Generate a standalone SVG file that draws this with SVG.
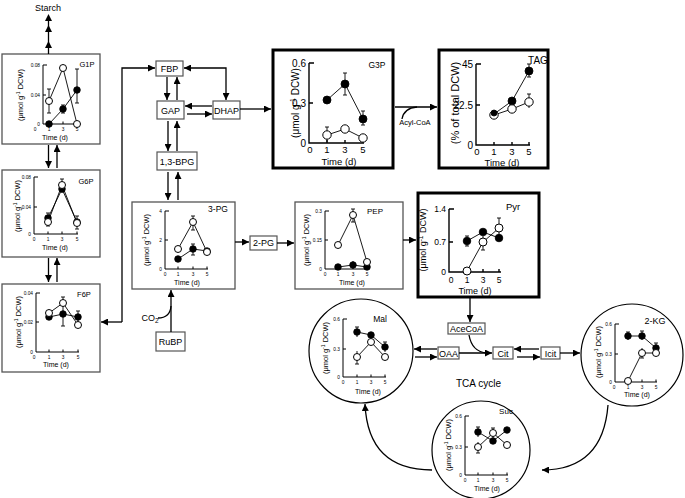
<svg xmlns="http://www.w3.org/2000/svg" width="685" height="498" viewBox="0 0 685 498">
<defs>
<marker id="ah" viewBox="0 0 8 8" refX="8" refY="4" markerWidth="7" markerHeight="7" markerUnits="userSpaceOnUse" orient="auto-start-reverse"><path d="M0,0L8,4L0,8z" fill="#000"/></marker>
<style>
text{font-family:"Liberation Sans",Arial,sans-serif;fill:#000}
.bx{fill:#fff;stroke:#555;stroke-width:1.3}
.bk{fill:#fff;stroke:#000;stroke-width:3}
.sb{fill:#fff;stroke:#555;stroke-width:1.2}
.ax{fill:none;stroke:#000;stroke-width:1}
.axb{fill:none;stroke:#000;stroke-width:1.4}
.ln{fill:none;stroke:#000;stroke-width:0.9}
.o{fill:#fff;stroke:#000;stroke-width:1}
.f{fill:#000;stroke:#000;stroke-width:0.8}
.c{fill:none;stroke:#000;stroke-width:1.2}
.cn{fill:none;stroke:#000;stroke-width:1.3}
.tk{font-size:4.8px}
.tkb{font-size:10px}
.tm{font-size:7px;text-anchor:middle}
.tmb{font-size:9.5px;text-anchor:middle}
.yl{font-size:7.5px;text-anchor:middle}
.ylb{font-size:10px;text-anchor:middle}
.nl{font-size:9px;text-anchor:middle}
.m{text-anchor:middle}
.e{text-anchor:end}
</style>
</defs>

<text x="48" y="11" class="nl">Starch</text>

<g id="n-g1p">
<rect class="bx" x="2" y="54" width="98" height="90"/>
<text x="87" y="67" font-size="7.5" class="m">G1P</text>
<path class="ax" d="M43,65V124H78M43,65h4M43,95h3M49,124v-2.5M63,124v-2.5M77,124v-2.5"/>
<g class="tk e"><text x="40" y="67">0.08</text><text x="40" y="97">0.04</text><text x="40" y="126">0</text></g>
<g class="tk m"><text x="35" y="131">0</text><text x="49" y="131">1</text><text x="63" y="131">3</text><text x="77" y="131">5</text></g>
<text x="55" y="140" class="tm">Time (d)</text>
<text class="yl" x="23" y="95" transform="rotate(-90 23 95)">(μmol g<tspan dy="-3" font-size="5">-1</tspan><tspan dy="3"> DCW)</tspan></text>
<path class="ln" d="M49,89V113M47,89h4M47,113h4M49,124L63,109L77,90M63,105V113M61,105h4M61,113h4M77,69V103M75,69h4M75,103h4M49,101L63,68L77,124"/>
<circle class="o" cx="49" cy="101" r="3.5"/><circle class="o" cx="63" cy="68" r="3.5"/><circle class="o" cx="77" cy="124" r="3.5"/>
<circle class="f" cx="49" cy="124" r="3.3"/><circle class="f" cx="63" cy="109" r="3.3"/><circle class="f" cx="77" cy="90" r="3.3"/>
</g>

<g id="n-g6p">
<rect class="bx" x="2" y="170" width="98" height="87"/>
<text x="86" y="184" font-size="7.5" class="m">G6P</text>
<path class="ax" d="M34,177V234H78M34,177h4M34,207h3M48,234v-2.5M62,234v-2.5M77,234v-2.5"/>
<g class="tk e"><text x="31" y="179">0.08</text><text x="31" y="209">0.04</text><text x="31" y="236">0</text></g>
<g class="tk m"><text x="34" y="241">0</text><text x="48" y="241">1</text><text x="62" y="241">3</text><text x="77" y="241">5</text></g>
<text x="55" y="250" class="tm">Time (d)</text>
<text class="yl" x="20" y="206" transform="rotate(-90 20 206)">(μmol g<tspan dy="-3" font-size="5">-1</tspan><tspan dy="3"> DCW)</tspan></text>
<path class="ln" d="M48,213V226M46,213h4M46,226h4M62,179V193M60,179h4M77,216V229M75,216h4M75,229h4M48,218L62,189L77,222M48,222L62,185L77,223"/>
<circle class="f" cx="48" cy="218" r="3.3"/><circle class="f" cx="62" cy="189" r="3.3"/><circle class="f" cx="77" cy="222" r="3.3"/>
<circle class="o" cx="48" cy="222" r="3.5"/><circle class="o" cx="62" cy="185" r="3.5"/><circle class="o" cx="77" cy="223" r="3.5"/>
</g>

<g id="n-f6p">
<rect class="bx" x="2" y="284" width="98" height="88"/>
<text x="84" y="297" font-size="7.5" class="m">F6P</text>
<path class="ax" d="M36,293V352H79M36,293h4M36,322h3M49,352v-2.5M63,352v-2.5M78,352v-2.5"/>
<g class="tk e"><text x="33" y="295">0.04</text><text x="33" y="324">0.02</text><text x="33" y="354">0</text></g>
<g class="tk m"><text x="34" y="359">0</text><text x="49" y="359">1</text><text x="63" y="359">3</text><text x="78" y="359">5</text></g>
<text x="56" y="367" class="tm">Time (d)</text>
<text class="yl" x="21" y="322" transform="rotate(-90 21 322)">(μmol g<tspan dy="-3" font-size="5">-1</tspan><tspan dy="3"> DCW)</tspan></text>
<path class="ln" d="M63,297V326M61,297h4M61,326h4M78,311V324M76,311h4M76,324h4M49,317L63,314L78,317M49,313L63,303L78,325"/>
<circle class="f" cx="49" cy="317" r="3.3"/><circle class="f" cx="63" cy="314" r="3.3"/><circle class="f" cx="78" cy="317" r="3.3"/>
<circle class="o" cx="49" cy="313" r="3.5"/><circle class="o" cx="63" cy="303" r="3.5"/><circle class="o" cx="78" cy="325" r="3.5"/>
</g>

<g id="n-fbp"><rect class="sb" x="156" y="61" width="27" height="15"/><text x="169.5" y="72" class="nl" font-size="8.5">FBP</text></g>
<g id="n-gap"><rect class="sb" x="157" y="101" width="27" height="18"/><text x="170.5" y="113.5" class="nl" font-size="8.5">GAP</text></g>
<g id="n-dhap"><rect class="sb" x="213" y="101" width="27" height="18"/><text x="226.5" y="113.5" class="nl" font-size="8">DHAP</text></g>
<g id="n-bpg"><rect class="sb" x="157" y="152" width="40" height="18"/><text x="177" y="164.5" class="nl" font-size="8.5">1,3-BPG</text></g>
<g id="n-2pg"><rect class="sb" x="250" y="236" width="27" height="14"/><text x="263.5" y="246" class="nl" font-size="8.5">2-PG</text></g>
<g id="n-rubp"><rect class="sb" x="156" y="332" width="29" height="19"/><text x="170.5" y="345" class="nl" font-size="8.5">RuBP</text></g>
<text x="150" y="321" class="nl" font-size="8.5">CO<tspan dy="2" font-size="6.5">2</tspan></text>

<g id="n-3pg">
<rect class="bx" x="132" y="202" width="103" height="87"/>
<text x="218" y="212" font-size="8.5" class="m">3-PG</text>
<path class="ax" d="M165,211V269H208M165,211h4M165,240h3M178,269v-2.5M193,269v-2.5M207,269v-2.5"/>
<g class="tk e"><text x="162" y="213">4</text><text x="162" y="242">2</text><text x="162" y="271">0</text></g>
<g class="tk m"><text x="165" y="276">0</text><text x="178" y="276">1</text><text x="193" y="276">3</text><text x="207" y="276">5</text></g>
<text x="187" y="285" class="tm">Time (d)</text>
<text class="yl" x="149" y="240" transform="rotate(-90 149 240)">(μmol g<tspan dy="-3" font-size="5">-1</tspan><tspan dy="3"> DCW)</tspan></text>
<path class="ln" d="M193,216V230M191,216h4M191,230h4M193,244V255M191,244h4M191,255h4M178,259L193,249L207,251M178,249L193,222L207,252"/>
<circle class="f" cx="178" cy="259" r="3.3"/><circle class="f" cx="193" cy="249" r="3.3"/><circle class="f" cx="207" cy="251" r="3.3"/>
<circle class="o" cx="178" cy="249" r="3.5"/><circle class="o" cx="193" cy="222" r="3.5"/><circle class="o" cx="207" cy="252" r="3.5"/>
</g>

<g id="n-pep">
<rect class="bx" x="295" y="202" width="108" height="87"/>
<text x="375" y="214" font-size="8" class="m">PEP</text>
<path class="ax" d="M325,211V269H368M325,211h4M325,240h3M338,269v-2.5M353,269v-2.5M367,269v-2.5"/>
<g class="tk e"><text x="322" y="213">0.3</text><text x="322" y="242">0.15</text><text x="322" y="271">0</text></g>
<g class="tk m"><text x="325" y="276">0</text><text x="338" y="276">1</text><text x="353" y="276">3</text><text x="367" y="276">5</text></g>
<text x="352" y="285" class="tm">Time (d)</text>
<text class="yl" x="309" y="240" transform="rotate(-90 309 240)">(μmol g<tspan dy="-3" font-size="5">-1</tspan><tspan dy="3"> DCW)</tspan></text>
<path class="ln" d="M353,209V222M351,209h4M351,222h4M353,261V268M338,267L353,265L367,267M338,245L353,215L367,262"/>
<circle class="f" cx="338" cy="267" r="3.3"/><circle class="f" cx="353" cy="265" r="3.3"/><circle class="f" cx="367" cy="267" r="3.3"/>
<circle class="o" cx="338" cy="245" r="3.5"/><circle class="o" cx="353" cy="215" r="3.5"/><circle class="o" cx="367" cy="262" r="3.5"/>
</g>

<g id="n-pyr">
<rect class="bk" x="418" y="193" width="121" height="104"/>
<text x="513" y="210" font-size="9.5" class="m">Pyr</text>
<path class="axb" d="M449,209V272H501M449,209h5M449,242h4M467,272v-3M483,272v-3M499,272v-3"/>
<g class="e" font-size="8.5"><text x="446" y="212">1.4</text><text x="446" y="245">0.7</text><text x="446" y="275">0</text></g>
<g class="m" font-size="8.5"><text x="451" y="283">0</text><text x="467" y="283">1</text><text x="483" y="283">3</text><text x="499" y="283">5</text></g>
<text x="475" y="294" class="m" font-size="9">Time (d)</text>
<text class="m" font-size="9" x="426" y="240" transform="rotate(-90 426 240)">(μmol g<tspan dy="-3.5" font-size="6.5">-1</tspan><tspan dy="3.5"> DCW)</tspan></text>
<path class="ln" d="M467,236V246M465,236h4M465,246h4M483,236V250M481,250h4M499,218V236M497,218h4M467,241L483,232L499,238M467,271L483,242L499,228"/>
<circle class="f" cx="467" cy="241" r="3.8"/><circle class="f" cx="483" cy="232" r="3.8"/><circle class="f" cx="499" cy="238" r="3.8"/>
<circle class="o" cx="467" cy="271" r="4"/><circle class="o" cx="483" cy="242" r="4"/><circle class="o" cx="499" cy="228" r="4"/>
</g>

<g id="n-g3p">
<rect class="bk" x="273" y="50" width="120" height="118"/>
<text x="377" y="68" font-size="8.5" class="m">G3P</text>
<path class="axb" d="M309,63V143H364M309,63h5M309,103h4M327,143v-3M345,143v-3M363,143v-3"/>
<g class="tkb e"><text x="306" y="67">0.6</text><text x="306" y="107">0.3</text><text x="306" y="147">0</text></g>
<g class="m" font-size="9.5"><text x="310" y="153">0</text><text x="327" y="153">1</text><text x="345" y="153">3</text><text x="363" y="153">5</text></g>
<text x="339" y="164.5" class="tmb">Time (d)</text>
<text class="ylb" x="299" y="103" transform="rotate(-90 299 103)">(μmol g<tspan dy="-4" font-size="7">-1</tspan><tspan dy="4"> DCW)</tspan></text>
<path class="ln" d="M345,73V95M343,73h4M343,95h4M363,111V125M361,111h4M361,125h4M327,127V142M325,127h4M327,100L345,84L363,119M327,135L345,129L363,138"/>
<circle class="f" cx="327" cy="100" r="4"/><circle class="f" cx="345" cy="84" r="4"/><circle class="f" cx="363" cy="119" r="4"/>
<circle class="o" cx="327" cy="135" r="4.2"/><circle class="o" cx="345" cy="129" r="4.2"/><circle class="o" cx="363" cy="138" r="4.2"/>
</g>

<g id="n-tag">
<rect class="bk" x="439" y="50" width="109" height="118"/>
<text x="538" y="64" font-size="10" class="m">TAG</text>
<path class="axb" d="M476,64V145H530M476,64h5M476,105h4M494,145v-3M512,145v-3M529,145v-3"/>
<g class="tkb e"><text x="473" y="68">45</text><text x="473" y="109">22.5</text><text x="473" y="149">0</text></g>
<g class="m" font-size="9.5"><text x="477" y="155">0</text><text x="494" y="155">1</text><text x="512" y="155">3</text><text x="529" y="155">5</text></g>
<text x="502" y="165.5" class="tmb">Time (d)</text>
<text class="m" font-size="11" x="459" y="103" transform="rotate(-90 459 103)">(% of total DCW)</text>
<path class="ln" d="M529,64V77M527,64h4M527,77h4M529,94V108M527,94h4M494,114L512,101L529,71M494,115L512,109L529,102"/>
<circle class="f" cx="512" cy="101" r="4"/><circle class="f" cx="529" cy="71" r="4"/>
<circle class="o" cx="494" cy="115" r="4.2"/><circle class="o" cx="512" cy="109" r="4.2"/><circle class="o" cx="529" cy="102" r="4.2"/>
<circle class="f" cx="494" cy="113" r="3"/>
</g>

<g id="n-acecoa"><rect class="sb" x="448" y="323" width="37" height="11"/><text x="466.5" y="332" class="nl" font-size="8">AceCoA</text></g>
<g id="n-oaa"><rect class="sb" x="438" y="347" width="21" height="12"/><text x="448.5" y="356.5" class="nl" font-size="8">OAA</text></g>
<g id="n-cit"><rect class="sb" x="493" y="347" width="20" height="12"/><text x="503" y="356.5" class="nl" font-size="8">Cit</text></g>
<g id="n-icit"><rect class="sb" x="541" y="347" width="19" height="12"/><text x="550.5" y="356.5" class="nl" font-size="8">Icit</text></g>
<text x="456" y="387" font-size="10">TCA cycle</text>

<g id="n-mal">
<circle class="c" cx="361" cy="351" r="52"/>
<text x="380" y="322" font-size="8.5" class="m">Mal</text>
<path class="ax" d="M343,319V377H386M343,319h4M343,349h3M357,377v-2.5M371,377v-2.5M385,377v-2.5"/>
<g class="tk e"><text x="340" y="321">0.6</text><text x="340" y="351">0.3</text><text x="340" y="379">0</text></g>
<g class="tk m"><text x="343" y="384">0</text><text x="357" y="384">1</text><text x="371" y="384">3</text><text x="385" y="384">5</text></g>
<text x="368" y="394" class="tm" font-size="7.5">Time (d)</text>
<text class="yl" x="328" y="348" transform="rotate(-90 328 348)">(μmol g<tspan dy="-3" font-size="5">-1</tspan><tspan dy="3"> DCW)</tspan></text>
<path class="ln" d="M357,327V337M355,327h4M385,342V352M383,342h4M357,351V364M355,364h4M357,332L371,335L385,347M357,357L371,342L385,357"/>
<circle class="f" cx="357" cy="332" r="3.3"/><circle class="f" cx="371" cy="335" r="3.3"/><circle class="f" cx="385" cy="347" r="3.3"/>
<circle class="o" cx="357" cy="357" r="3.5"/><circle class="o" cx="371" cy="342" r="3.5"/><circle class="o" cx="385" cy="357" r="3.5"/>
</g>

<g id="n-2kg">
<circle class="c" cx="632" cy="355" r="51"/>
<text x="655" y="324" font-size="9" class="m">2-KG</text>
<path class="ax" d="M615,324V382H657M615,324h4M615,354h3M628,382v-2.5M642,382v-2.5M656,382v-2.5"/>
<g class="tk e"><text x="612" y="326">0.6</text><text x="612" y="356">0.3</text><text x="612" y="384">0</text></g>
<g class="tk m"><text x="614" y="389">0</text><text x="628" y="389">1</text><text x="642" y="389">3</text><text x="656" y="389">5</text></g>
<text x="637" y="397" class="tm" font-size="7.5">Time (d)</text>
<text class="yl" x="601" y="352" transform="rotate(-90 601 352)">(μmol g<tspan dy="-3" font-size="5">-1</tspan><tspan dy="3"> DCW)</tspan></text>
<path class="ln" d="M628,332V340M626,332h4M642,331V340M640,331h4M656,343V352M654,343h4M642,348V358M640,358h4M628,336L642,336L656,348M628,381L642,353L656,353"/>
<circle class="f" cx="628" cy="336" r="3.3"/><circle class="f" cx="642" cy="336" r="3.3"/><circle class="f" cx="656" cy="348" r="3.3"/>
<circle class="o" cx="628" cy="381" r="3.5"/><circle class="o" cx="642" cy="353" r="3.5"/><circle class="o" cx="656" cy="353" r="3.5"/>
</g>

<g id="n-suc">
<circle class="c" cx="481" cy="450" r="49"/>
<text x="506" y="414" font-size="8" class="m">Suc</text>
<path class="ax" d="M465,416V475H508M465,416h4M465,447h3M478,475v-2.5M493,475v-2.5M507,475v-2.5"/>
<g class="tk e"><text x="462" y="418">0.6</text><text x="462" y="449">0.3</text><text x="462" y="477">0</text></g>
<g class="tk m"><text x="465" y="482">0</text><text x="478" y="482">1</text><text x="493" y="482">3</text><text x="507" y="482">5</text></g>
<text x="487" y="491" class="tm" font-size="7.5">Time (d)</text>
<text class="yl" x="451" y="445" transform="rotate(-90 451 445)">(μmol g<tspan dy="-3" font-size="5">-1</tspan><tspan dy="3"> DCW)</tspan></text>
<path class="ln" d="M478,427V437M476,427h4M478,442V453M476,453h4M493,428V438M491,428h4M478,432L493,441L507,430M478,447L493,433L507,445"/>
<circle class="f" cx="478" cy="432" r="3.3"/><circle class="f" cx="493" cy="441" r="3.3"/><circle class="f" cx="507" cy="430" r="3.3"/>
<circle class="o" cx="478" cy="447" r="3.5"/><circle class="o" cx="493" cy="433" r="3.5"/><circle class="o" cx="507" cy="445" r="3.5"/>
</g>

<text x="415" y="125" font-size="7.5" class="m">Acyl-CoA</text>

<g id="connectors">
<path class="cn" d="M48.5,18V54"/>
<polygon points="48.5,14 45,21 52,21"/>
<polygon points="48.5,25 45,32 52,32"/>
<polygon points="48.5,41 45,48 52,48"/>
<path class="cn" marker-end="url(#ah)" d="M48.5,145V168"/>
<path class="cn" marker-end="url(#ah)" d="M57,168V145"/>
<path class="cn" marker-end="url(#ah)" d="M48.5,258V282"/>
<path class="cn" marker-end="url(#ah)" d="M57,282V258"/>
<path class="cn" marker-end="url(#ah)" d="M122,322H101"/>
<path class="cn" marker-end="url(#ah)" d="M122,322V68H155"/>
<path class="cn" marker-start="url(#ah)" marker-end="url(#ah)" d="M184,68H226V100"/>
<path class="cn" marker-end="url(#ah)" d="M167,77V100"/>
<path class="cn" marker-end="url(#ah)" d="M177,100V77"/>
<path class="cn" marker-end="url(#ah)" d="M212,106H185"/>
<path class="cn" marker-end="url(#ah)" d="M187,114H212"/>
<path class="cn" marker-end="url(#ah)" d="M240,109H271"/>
<path class="cn" marker-end="url(#ah)" d="M168,121V151"/>
<path class="cn" marker-end="url(#ah)" d="M177,151V121"/>
<path class="cn" marker-end="url(#ah)" d="M168,172V200"/>
<path class="cn" marker-end="url(#ah)" d="M178,200V172"/>
<path class="cn" marker-end="url(#ah)" d="M235,242H249"/>
<path class="cn" marker-end="url(#ah)" d="M277,243H294"/>
<path class="cn" marker-end="url(#ah)" d="M403,240H416"/>
<path class="cn" marker-end="url(#ah)" d="M171,332V290"/>
<path class="cn" d="M158,318Q170,318 171,306"/>
<path class="cn" marker-end="url(#ah)" d="M395,107H437"/>
<path class="cn" d="M402,119Q404,108 417,107"/>
<path class="cn" marker-end="url(#ah)" d="M470,298V322"/>
<path class="cn" marker-end="url(#ah)" d="M437,349H414"/>
<path class="cn" marker-end="url(#ah)" d="M415,357H437"/>
<path class="cn" marker-end="url(#ah)" d="M459,353H492"/>
<path class="cn" d="M469,335Q472,352 487,353"/>
<path class="cn" marker-end="url(#ah)" d="M539,349H514"/>
<path class="cn" marker-end="url(#ah)" d="M517,357H540"/>
<path class="cn" marker-end="url(#ah)" d="M560,353H580"/>
<path class="cn" marker-end="url(#ah)" d="M608,405Q603,470 542,470"/>
<path class="cn" marker-end="url(#ah)" d="M432,470Q368,470 365,404"/>
</g>
</svg>
